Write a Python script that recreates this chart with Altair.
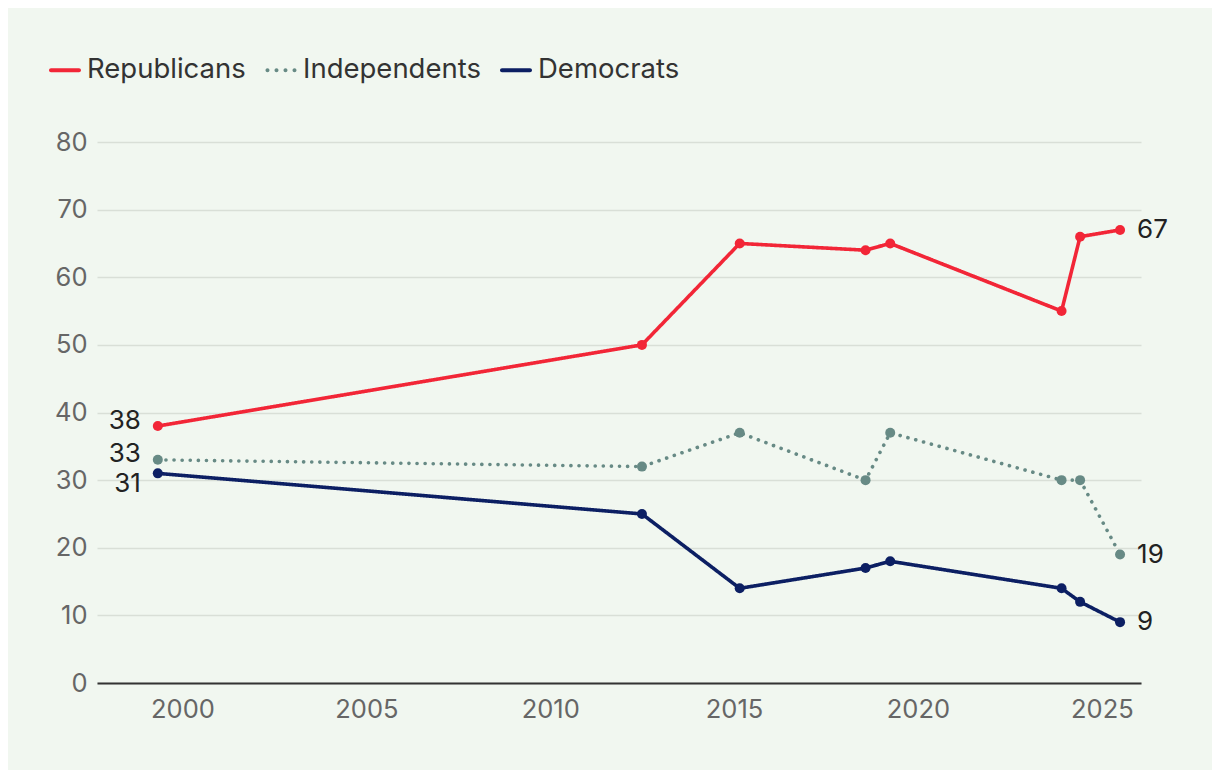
import altair as alt
import pandas as pd

# ---- data ----
dates = ["1999-05-01", "2012-06-30", "2015-02-26", "2018-07-30",
         "2019-04-01", "2023-11-28", "2024-05-30", "2025-07-01"]
republicans = [38, 50, 65, 64, 65, 55, 66, 67]
independents = [33, 32, 37, 30, 37, 30, 30, 19]
democrats = [31, 25, 14, 17, 18, 14, 12, 9]
series = ["Republicans", "Independents", "Democrats"]
colors = ["#f22637", "#678a85", "#0c1f63"]
y_ticks = [0, 10, 20, 30, 40, 50, 60, 70, 80]
x_tick_years = [2000, 2005, 2010, 2015, 2020, 2025]

rows = []
for name, vals in zip(series, [republicans, independents, democrats]):
    for d, v in zip(dates, vals):
        rows.append({"date": d, "party": name, "value": v})
df = pd.DataFrame(rows)
left_df = df[df["date"] == dates[0]]
right_df = df[df["date"] == dates[-1]]

FONT = "Inter"
BG = "#f1f7f0"

# legend glyphs (unit-square SVG paths): rounded bar and four dots
solid_glyph = ("M-0.875,-0.125H0.875A0.125,0.125 0 0 1 0.875,0.125"
               "H-0.875A0.125,0.125 0 0 1 -0.875,-0.125Z")
dot_centers = [-0.844, -0.281, 0.281, 0.844]
dotted_glyph = "".join(
    f"M{c - 0.125:.3f},0A0.125,0.125 0 1 0 {c + 0.125:.3f},0"
    f"A0.125,0.125 0 1 0 {c - 0.125:.3f},0Z" for c in dot_centers
)
dash_styles = {"Republicans": [1, 0], "Independents": [0.1, 8], "Democrats": [1, 0]}

x_enc = alt.X(
    "date:T",
    title=None,
    scale=alt.Scale(domain=[alt.DateTime(year=1997, month=9, date=4),
                            alt.DateTime(year=2026, month=1, date=25)]),
    axis=alt.Axis(
        values=[alt.DateTime(year=y, month=1, date=1) for y in x_tick_years],
        format="%Y", ticks=False, grid=False, domain=True,
        domainColor="#333333", domainWidth=2,
        labelPadding=14, labelFontSize=25.5, labelColor="#666666",
        labelFont=FONT,
    ),
)
y_enc = alt.Y(
    "value:Q",
    title=None,
    scale=alt.Scale(domain=[0, 80], nice=False),
    axis=alt.Axis(
        values=y_ticks, ticks=False, domain=False, grid=True,
        gridColor="#d9dfd7", gridWidth=1.5,
        labelPadding=10, labelFontSize=25.5, labelColor="#666666",
        labelFont=FONT,
    ),
)

legend = alt.Legend(
    title=None, orient="none", legendX=-48, legendY=-88,
    direction="horizontal", symbolSize=1024, symbolStrokeWidth=0,
    symbolOpacity=1, labelFontSize=27.5, labelColor="#333333",
    labelFont=FONT, labelLimit=400, columnPadding=19, labelOffset=6,
)

layers = []
# legend-only layer (no rows drawn; entries come from the explicit domain)
layers.append(
    alt.Chart(df).transform_filter("false").mark_point(filled=True).encode(
        x=x_enc, y=y_enc,
        color=alt.Color("party:N", scale=alt.Scale(domain=series, range=colors),
                        legend=legend),
        shape=alt.Shape("party:N",
                        scale=alt.Scale(domain=series,
                                        range=[solid_glyph, dotted_glyph, solid_glyph]),
                        legend=legend),
    )
)

for name, col in zip(series, colors):
    layers.append(
        alt.Chart(df[df["party"] == name]).mark_line(
            strokeWidth=3.6, strokeCap="round", strokeJoin="round",
            color=col, strokeDash=dash_styles[name],
        ).encode(x=x_enc, y=y_enc)
    )

for name, col in zip(series, colors):
    layers.append(
        alt.Chart(df[df["party"] == name]).mark_circle(
            size=100, opacity=1, color=col
        ).encode(x=x_enc, y=y_enc)
    )

left_dy = {"Republicans": -5, "Independents": -6, "Democrats": 11}
for name in series:
    layers.append(
        alt.Chart(left_df[left_df["party"] == name]).mark_text(
            align="right", baseline="middle", dx=-17, dy=left_dy[name],
            fontSize=26, font=FONT, color="#222222"
        ).encode(x=x_enc, y=y_enc, text=alt.Text("value:Q"))
    )

layers.append(
    alt.Chart(right_df).mark_text(
        align="left", baseline="middle", dx=17,
        fontSize=26, font=FONT, color="#222222"
    ).encode(x=x_enc, y=y_enc, text=alt.Text("value:Q"))
)

chart = alt.layer(*layers).properties(
    width=1044, height=541,
    background=BG,
    padding={"left": 89, "top": 134, "right": 71, "bottom": 87},
    autosize=alt.AutoSizeParams(type="none"),
).configure_view(stroke=None)

chart.save("out.html", embed_options={"renderer": "svg", "actions": False})
